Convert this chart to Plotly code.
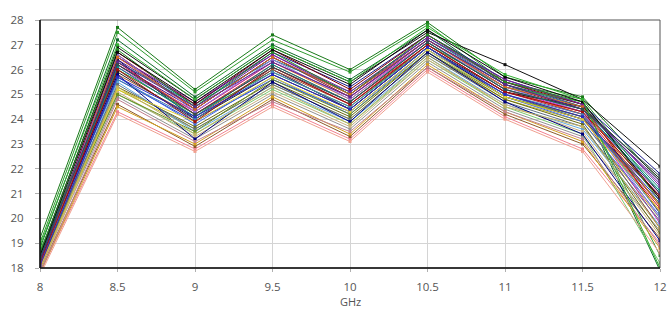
import plotly.graph_objects as go

freq_ghz = [8, 8.5, 9, 9.5, 10, 10.5, 11, 11.5, 12]
x_tick_labels = ["8", "8.5", "9", "9.5", "10", "10.5", "11", "11.5", "12"]
y_tick_values = [18, 19, 20, 21, 22, 23, 24, 25, 26, 27, 28]
x_title = "GHz"

s01 = [19.2, 27.7, 25.2, 27.4, 26.0, 27.9, 25.7, 24.9, 21.5]
s02 = [19.0, 27.5, 25.1, 27.2, 25.9, 27.8, 25.5, 24.8, 21.0]
s03 = [18.6, 26.9, 24.8, 26.9, 25.5, 27.5, 26.2, 24.8, 22.1]
s04 = [18.8, 27.2, 24.9, 27.0, 25.6, 27.6, 25.4, 24.6, 17.9]
s05 = [18.4, 26.5, 24.6, 26.7, 25.3, 27.4, 25.6, 24.6, 21.8]
s06 = [18.3, 26.4, 24.5, 26.6, 25.0, 27.3, 25.5, 24.5, 21.4]
s07 = [18.2, 26.6, 24.4, 26.5, 24.9, 27.2, 25.3, 24.4, 20.8]
s08 = [18.0, 26.0, 24.2, 26.2, 24.7, 27.0, 25.1, 24.3, 20.5]
s09 = [17.9, 26.2, 24.3, 26.3, 24.8, 27.1, 25.2, 24.2, 20.3]
s10 = [18.1, 25.2, 23.6, 25.4, 24.0, 26.6, 24.8, 23.9, 20.0]
s11 = [18.3, 25.6, 23.9, 25.6, 24.3, 26.8, 25.0, 24.0, 20.6]
s12 = [18.5, 26.3, 24.6, 26.4, 25.1, 27.3, 25.4, 24.5, 21.2]
s13 = [17.8, 24.3, 22.8, 24.6, 23.2, 26.0, 24.1, 22.8, 19.0]
s14 = [17.9, 24.6, 22.9, 24.8, 23.3, 26.1, 24.2, 23.0, 19.2]
s15 = [18.0, 24.9, 23.2, 25.0, 23.6, 26.3, 24.4, 23.3, 19.5]
s16 = [18.4, 25.0, 23.4, 25.2, 23.8, 26.4, 24.5, 23.4, 18.2]
s17 = [18.2, 26.1, 24.3, 26.3, 24.9, 27.1, 25.2, 24.3, 19.8]
s18 = [18.3, 26.4, 24.0, 26.0, 24.4, 26.9, 24.9, 24.0, 20.9]
s19 = [18.1, 25.3, 23.7, 25.5, 24.1, 26.7, 24.8, 23.8, 19.4]
s20 = [18.0, 25.5, 23.5, 25.3, 23.9, 26.5, 24.6, 23.6, 19.7]
s21 = [18.2, 26.7, 24.6, 26.8, 25.2, 27.4, 25.5, 24.6, 20.2]
s22 = [17.9, 25.8, 24.1, 26.0, 24.6, 26.9, 25.0, 24.1, 19.6]
s23 = [18.4, 26.2, 24.4, 26.5, 25.0, 27.2, 25.4, 24.4, 21.0]
s24 = [18.7, 26.0, 24.2, 25.9, 24.5, 27.0, 25.3, 24.7, 18.5]
s25 = [17.8, 24.5, 23.0, 24.9, 23.4, 26.2, 24.3, 23.1, 18.8]
s26 = [17.7, 24.2, 22.7, 24.5, 23.1, 25.9, 24.0, 22.7, 18.6]
s27 = [18.5, 25.9, 24.0, 25.8, 24.4, 26.9, 25.1, 24.5, 21.6]
s28 = [18.2, 25.7, 23.8, 25.7, 24.2, 26.8, 24.9, 23.9, 20.1]
s29 = [18.3, 26.5, 24.7, 26.6, 25.1, 27.3, 25.6, 24.6, 21.3]
s30 = [18.6, 26.8, 24.5, 26.7, 25.0, 27.4, 25.5, 24.7, 20.7]
s31 = [17.9, 25.1, 23.3, 25.1, 23.7, 26.4, 24.6, 23.5, 19.3]
s32 = [18.1, 25.4, 23.6, 25.4, 24.0, 26.6, 24.7, 23.7, 19.9]
s33 = [18.0, 26.3, 24.2, 26.1, 24.6, 27.0, 25.1, 24.2, 20.4]
s34 = [18.2, 25.0, 23.5, 25.6, 24.2, 26.7, 24.9, 24.1, 20.6]
s35 = [18.1, 26.6, 24.3, 26.4, 24.8, 27.1, 25.3, 24.3, 20.0]
s36 = [18.3, 25.8, 23.2, 25.5, 23.9, 26.7, 24.7, 23.4, 19.1]
s37 = [18.0, 25.2, 23.9, 25.7, 24.3, 26.8, 24.9, 24.0, 20.3]
s38 = [18.4, 26.1, 24.1, 26.2, 24.7, 27.1, 25.2, 24.4, 21.1]
s39 = [17.8, 24.8, 23.1, 24.7, 23.5, 26.1, 24.3, 23.2, 18.9]
s40 = [18.5, 26.7, 24.7, 26.8, 25.4, 27.6, 25.7, 24.7, 20.8]
s41 = [18.1, 26.5, 24.4, 26.5, 25.0, 27.2, 25.3, 24.5, 20.5]
s42 = [18.9, 27.0, 24.8, 26.9, 25.5, 27.7, 25.8, 24.8, 18.0]
s43 = [18.2, 25.6, 24.0, 25.9, 24.5, 26.9, 25.0, 24.2, 20.2]
s44 = [18.3, 26.3, 24.5, 26.3, 24.9, 27.2, 25.4, 24.4, 21.5]
s45 = [18.0, 25.3, 23.4, 25.3, 23.8, 26.5, 24.5, 23.7, 19.6]
s46 = [18.2, 26.0, 23.9, 26.1, 24.6, 27.0, 25.1, 24.3, 20.9]
s47 = [18.1, 25.7, 24.1, 25.8, 24.4, 26.9, 25.0, 24.1, 20.7]
s48 = [18.4, 26.2, 24.2, 26.1, 24.7, 27.1, 25.2, 24.4, 21.7]

series = [s01, s02, s03, s04, s05, s06, s07, s08, s09, s10, s11, s12,
          s13, s14, s15, s16, s17, s18, s19, s20, s21, s22, s23, s24,
          s25, s26, s27, s28, s29, s30, s31, s32, s33, s34, s35, s36,
          s37, s38, s39, s40, s41, s42, s43, s44, s45, s46, s47, s48]

colors = ["#1a7a1a", "#2e9a2e", "#111111", "#0f6b2a", "#1c1c8c", "#6a1b9a",
          "#8b1a1a", "#d62020", "#e07b10", "#b8b020", "#2040d0", "#138080",
          "#f08090", "#8b5a2b", "#909090", "#7cc870", "#c020c0", "#101060",
          "#6b6b10", "#60a8e0", "#800000", "#a0522d", "#4b0082", "#3a9a3a",
          "#d4a020", "#f0a090", "#202020", "#4169e1", "#7a1fa0", "#228b22",
          "#c8b080", "#607080", "#c01838", "#6b8e23", "#9370db", "#000080",
          "#e0d030", "#008b8b", "#c08090", "#0a0a0a", "#d2691e", "#30b030",
          "#4682b4", "#5a2a8a", "#c0b060", "#a01010", "#2a2ac0", "#2f4f4f"]

fig = go.Figure()
for vals, col in zip(series, colors):
    fig.add_trace(go.Scatter(
        x=freq_ghz, y=vals, mode="lines+markers",
        line=dict(color=col, width=1),
        marker=dict(color=col, size=3, symbol="square"),
        showlegend=False, hoverinfo="skip", cliponaxis=True))

font = dict(family="Open Sans, DejaVu Sans, sans-serif", size=11.5, color="#555555")
title_font = dict(family="Open Sans, DejaVu Sans, sans-serif", size=11, color="#555555")

fig.update_layout(
    width=668, height=309, autosize=False,
    margin=dict(l=40, r=8, t=20, b=41),
    paper_bgcolor="white", plot_bgcolor="white",
    font=font,
    xaxis=dict(range=[8, 12], tickvals=freq_ghz, ticktext=x_tick_labels,
               showgrid=True, gridcolor="#d4d4d4", gridwidth=1,
               zeroline=False, showline=False, automargin=False,
               ticks="outside", ticklen=3, tickcolor="#b0b0b0",
               ticklabelstandoff=5),
    yaxis=dict(range=[18, 28], tickvals=y_tick_values,
               showgrid=True, gridcolor="#d4d4d4", gridwidth=1,
               zeroline=False, showline=False, automargin=False,
               ticks="outside", ticklen=4, tickcolor="#b0b0b0",
               ticklabelstandoff=9),
    annotations=[dict(text=x_title, xref="paper", yref="paper", x=0.5, y=-0.137,
                      xanchor="center", yanchor="middle", showarrow=False,
                      font=title_font)],
    shapes=[
        dict(type="rect", xref="paper", yref="paper", x0=0, x1=1, y0=0, y1=1,
             line=dict(color="#555555", width=1), layer="above"),
        dict(type="line", xref="paper", yref="paper", x0=0, x1=1, y0=0, y1=0,
             line=dict(color="#111111", width=1.5), layer="above"),
        dict(type="line", xref="paper", yref="paper", x0=0, x1=0, y0=0, y1=1,
             line=dict(color="#111111", width=1.5), layer="above"),
    ],
)

fig.write_html(
    "out.html",
    config=dict(displayModeBar=False, responsive=False),
    post_script=("document.body.style.margin='0';"
                 "document.body.style.overflow='hidden';"),
)
